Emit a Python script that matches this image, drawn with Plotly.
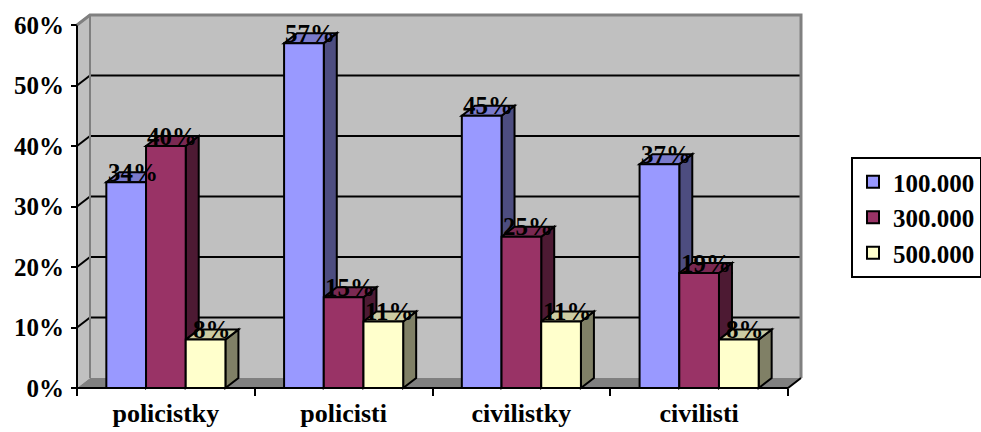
import plotly.graph_objects as go

categories = ["policistky", "policisti", "civilistky", "civilisti"]
series_names = ["100.000", "300.000", "500.000"]
s100 = [0.34, 0.57, 0.45, 0.37]
s300 = [0.40, 0.15, 0.25, 0.19]
s500 = [0.08, 0.11, 0.11, 0.08]
y_ticks = [0, 0.1, 0.2, 0.3, 0.4, 0.5, 0.6]

series = [s100, s300, s500]
front_cols = ["#9999FF", "#993366", "#FFFFCC"]
top_cols = ["#7A7ACC", "#7A2952", "#CCCCA3"]
side_cols = ["#4D4D80", "#4D1A33", "#808066"]

FONT = "Liberation Serif"
W, H = 981, 432
ml, mr_px, mt, mb_px = 74, 803, 12, 391  # plot area pixels
U = 177.75   # px per category
V = 605.0    # px per unit of y
dx = 13 / U  # depth offset (x units)
dy = 10 / V  # depth offset (y units)
bargap = 0.33
bw = (1 - bargap) / 3
ymax_axis = 0.6

x0r = -0.5 - (77 - ml) / U
x1r = x0r + (mr_px - ml) / U
y0r = -(mb_px - 388) / V
y1r = y0r + (mb_px - mt) / V

fig = go.Figure()
for j, (name, vals) in enumerate(zip(series_names, series)):
    fig.add_trace(go.Bar(
        x=list(range(len(categories))), y=vals, name=name,
        marker=dict(color=front_cols[j], line=dict(color="black", width=2)),
        legendgroup=name,
    ))

# data labels
annotations = []
for j, vals in enumerate(series):
    for i, v in enumerate(vals):
        c = i + (j - 1) * bw
        annotations.append(dict(
            x=c + dx / 2, y=v + dy, xref="x", yref="y", text=f"{round(v*100)}%",
            showarrow=False, xanchor="center", yanchor="middle",
            font=dict(family=FONT, size=25, color="black", weight="bold"),
        ))

shapes = []
L, R = -0.5, len(categories) - 0.5
# back wall
shapes.append(dict(type="rect", xref="x", yref="y", layer="below",
                   x0=L + dx, x1=R + dx, y0=dy, y1=ymax_axis + dy,
                   fillcolor="#C0C0C0", line=dict(width=0)))
# side wall
shapes.append(dict(type="path", xref="x", yref="y", layer="below",
                   path=f"M{L},0 L{L},{ymax_axis} L{L+dx},{ymax_axis+dy} L{L+dx},{dy} Z",
                   fillcolor="#C0C0C0", line=dict(width=0)))
# floor
shapes.append(dict(type="path", xref="x", yref="y", layer="below",
                   path=f"M{L},0 L{R},0 L{R+dx},{dy} L{L+dx},{dy} Z",
                   fillcolor="#808080", line=dict(width=0)))
# gridlines
for t in y_ticks[1:-1]:
    shapes.append(dict(type="line", xref="x", yref="y", layer="below",
                       x0=L + dx, x1=R + dx, y0=t + dy, y1=t + dy,
                       line=dict(color="black", width=2)))
    shapes.append(dict(type="line", xref="x", yref="y", layer="below",
                       x0=L, x1=L + dx, y0=t, y1=t + dy,
                       line=dict(color="black", width=2)))
# wall edges
gray = "#808080"
shapes.append(dict(type="path", xref="x", yref="y", layer="below",
                   path=f"M{L},{ymax_axis} L{L+dx},{ymax_axis+dy} L{R+dx},{ymax_axis+dy} L{R+dx},{dy}",
                   line=dict(color=gray, width=3)))
shapes.append(dict(type="line", xref="x", yref="y", layer="below",
                   x0=L + dx, x1=L + dx, y0=dy, y1=ymax_axis + dy,
                   line=dict(color=gray, width=2)))
# bar tops and sides
for j, vals in enumerate(series):
    for i, v in enumerate(vals):
        c = i + (j - 1) * bw
        a, b = c - bw / 2, c + bw / 2
        shapes.append(dict(type="path", xref="x", yref="y", layer="below",
                           path=f"M{b},0 L{b},{v} L{b+dx},{v+dy} L{b+dx},{dy} Z",
                           fillcolor=side_cols[j], line=dict(color="black", width=2)))
        shapes.append(dict(type="path", xref="x", yref="y", layer="below",
                           path=f"M{a},{v} L{b},{v} L{b+dx},{v+dy} L{a+dx},{v+dy} Z",
                           fillcolor=top_cols[j], line=dict(color="black", width=2)))
# front axis lines
shapes.append(dict(type="line", xref="x", yref="y", layer="above",
                   x0=L, x1=L, y0=0, y1=ymax_axis, line=dict(color="black", width=2)))
shapes.append(dict(type="path", xref="x", yref="y", layer="above",
                   path=f"M{L},0 L{R},0 L{R+dx},{dy}", line=dict(color="black", width=2)))
shapes.append(dict(type="line", xref="x", yref="y", layer="above",
                   x0=L, x1=L + dx, y0=ymax_axis, y1=ymax_axis + dy,
                   line=dict(color=gray, width=2)))

fig.update_layout(
    width=W, height=H,
    margin=dict(l=ml, r=W - mr_px, t=mt, b=H - mb_px, pad=0, autoexpand=False),
    paper_bgcolor="white", plot_bgcolor="white",
    barmode="group", bargap=bargap, bargroupgap=0,
    shapes=shapes, annotations=annotations,
    showlegend=True,
    legend=dict(
        x=(851 - ml) / (mr_px - ml), y=(mb_px - 157) / (mb_px - mt),
        xanchor="left", yanchor="top",
        bordercolor="black", borderwidth=2, bgcolor="white",
        font=dict(family=FONT, size=25, color="black", weight="bold"),
        tracegroupgap=10, traceorder="normal",
    ),
    xaxis=dict(
        range=[x0r, x1r], tickmode="array",
        tickvals=list(range(len(categories))), ticktext=categories,
        showgrid=False, zeroline=False, showline=False,
        anchor="free", position=(mb_px - 388) / (mb_px - mt),
        ticks="", ticklabelstandoff=7,
        tickfont=dict(family=FONT, size=26, color="black", weight="bold"),
    ),
    yaxis=dict(
        range=[y0r, y1r], tickmode="array", tickvals=y_ticks,
        tickformat=".0%", showgrid=False, zeroline=False, showline=False,
        anchor="free", position=(77 - ml) / (mr_px - ml),
        ticks="outside", ticklen=6, tickwidth=2, tickcolor="black",
        ticklabelstandoff=2,
        tickfont=dict(family=FONT, size=25, color="black", weight="bold"),
    ),
)
# x tick marks at category boundaries via an overlay axis
fig.update_layout(xaxis2=dict(
    overlaying="x", range=[x0r, x1r], tickmode="array",
    tickvals=[k - 0.5 for k in range(len(categories) + 1)],
    showticklabels=False, ticks="outside", ticklen=7, tickwidth=2, tickcolor="black",
    showgrid=False, zeroline=False, showline=False, side="bottom",
    anchor="free", position=(mb_px - 388) / (mb_px - mt),
))
fig.add_trace(go.Scatter(x=[None], y=[None], xaxis="x2", showlegend=False, hoverinfo="skip"))

fig.write_html("out.html")
